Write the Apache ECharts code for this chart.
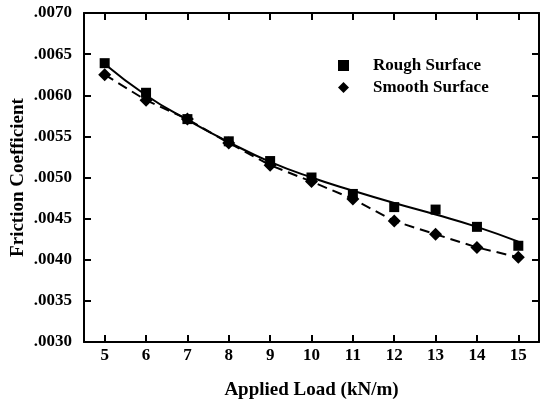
<!DOCTYPE html>
<html>
<head>
<meta charset="utf-8">
<script src="https://cdn.jsdelivr.net/npm/echarts@6/dist/echarts.min.js"></script>
<style>
  html, body { margin: 0; padding: 0; background: #fff; }
  #chart { width: 540px; height: 403px; }
</style>
</head>
<body>
<div id="chart"></div>
<script>
const loads = ['5', '6', '7', '8', '9', '10', '11', '12', '13', '14', '15'];
const roughPoints = [0.00639, 0.00603, 0.00571, 0.00544, 0.00520, 0.00500, 0.00480, 0.00464, 0.00461, 0.00440, 0.00417];
const roughFit = [0.00638, 0.00600, 0.00570, 0.00543, 0.00519, 0.00500, 0.00484, 0.00469, 0.00455, 0.00440, 0.00422];
const smoothPoints = [0.00625, 0.00594, 0.00571, 0.00542, 0.00515, 0.00495, 0.00474, 0.00447, 0.00431, 0.00415, 0.00403];

const font = '"Liberation Serif", "Times New Roman", serif';

const chartDom = echarts.init(document.getElementById('chart'));

function labelStyle(size) {
  return {
    color: '#000',
    fontFamily: font,
    fontWeight: 'bold',
    fontSize: size
  };
}

const frameLine = { lineStyle: { color: '#000', width: 2 } };
const innerTick = { show: true, inside: true, length: 7, alignWithLabel: true, lineStyle: { color: '#000', width: 2 } };

const option = {
  animation: false,
  backgroundColor: '#fff',
  grid: {
    left: 84,
    right: 1,
    top: 13,
    bottom: 61,
    outerBoundsMode: 'none'
  },
  legend: {
    orient: 'vertical',
    left: 333,
    top: 52,
    itemWidth: 11,
    itemHeight: 11,
    itemGap: 5,
    selectedMode: false,
    itemStyle: { opacity: 1 },
    textStyle: Object.assign(labelStyle(17), { padding: [0, 0, 0, 19] }),
    data: [
      { name: 'Rough Surface', icon: 'rect' },
      { name: 'Smooth Surface', icon: 'diamond' }
    ]
  },
  xAxis: [{
    type: 'category',
    data: loads,
    name: 'Applied Load (kN/m)',
    nameLocation: 'middle',
    nameGap: 39,
    nameMoveOverlap: false,
    nameTextStyle: labelStyle(19),
    axisLine: frameLine,
    axisTick: innerTick,
    axisLabel: Object.assign(labelStyle(17), { margin: 5 }),
    splitLine: { show: false }
  }, {
    type: 'category',
    data: loads,
    position: 'top',
    axisLine: frameLine,
    axisTick: innerTick,
    axisLabel: { show: false },
    splitLine: { show: false }
  }],
  yAxis: [{
    type: 'value',
    min: 0.003,
    max: 0.007,
    interval: 0.0005,
    name: 'Friction Coefficient',
    nameLocation: 'middle',
    nameGap: 56,
    nameMoveOverlap: false,
    nameTextStyle: labelStyle(19),
    axisLine: Object.assign({ show: true }, frameLine),
    axisTick: innerTick,
    axisLabel: Object.assign(labelStyle(17), {
      margin: 12,
      formatter: function (v) {
        return v.toFixed(4).replace(/^0/, '');
      }
    }),
    splitLine: { show: false }
  }, {
    type: 'value',
    min: 0.003,
    max: 0.007,
    interval: 0.0005,
    position: 'right',
    axisLine: Object.assign({ show: true }, frameLine),
    axisTick: innerTick,
    axisLabel: { show: false },
    splitLine: { show: false }
  }],
  series: [{
    name: 'Rough fit',
    type: 'line',
    data: roughFit,
    smooth: true,
    symbol: 'none',
    lineStyle: { color: '#000', width: 2, type: 'solid' },
    z: 2
  }, {
    name: 'Smooth Surface',
    type: 'line',
    data: smoothPoints,
    symbol: 'diamond',
    symbolSize: 13,
    itemStyle: { color: '#000', opacity: 1 },
    lineStyle: { color: '#000', width: 2, type: [10, 6] },
    z: 3
  }, {
    name: 'Rough Surface',
    type: 'scatter',
    data: roughPoints,
    symbol: 'rect',
    symbolSize: 10,
    itemStyle: { color: '#000', opacity: 1 },
    z: 4
  }]
};

chartDom.setOption(option);
</script>
</body>
</html>
